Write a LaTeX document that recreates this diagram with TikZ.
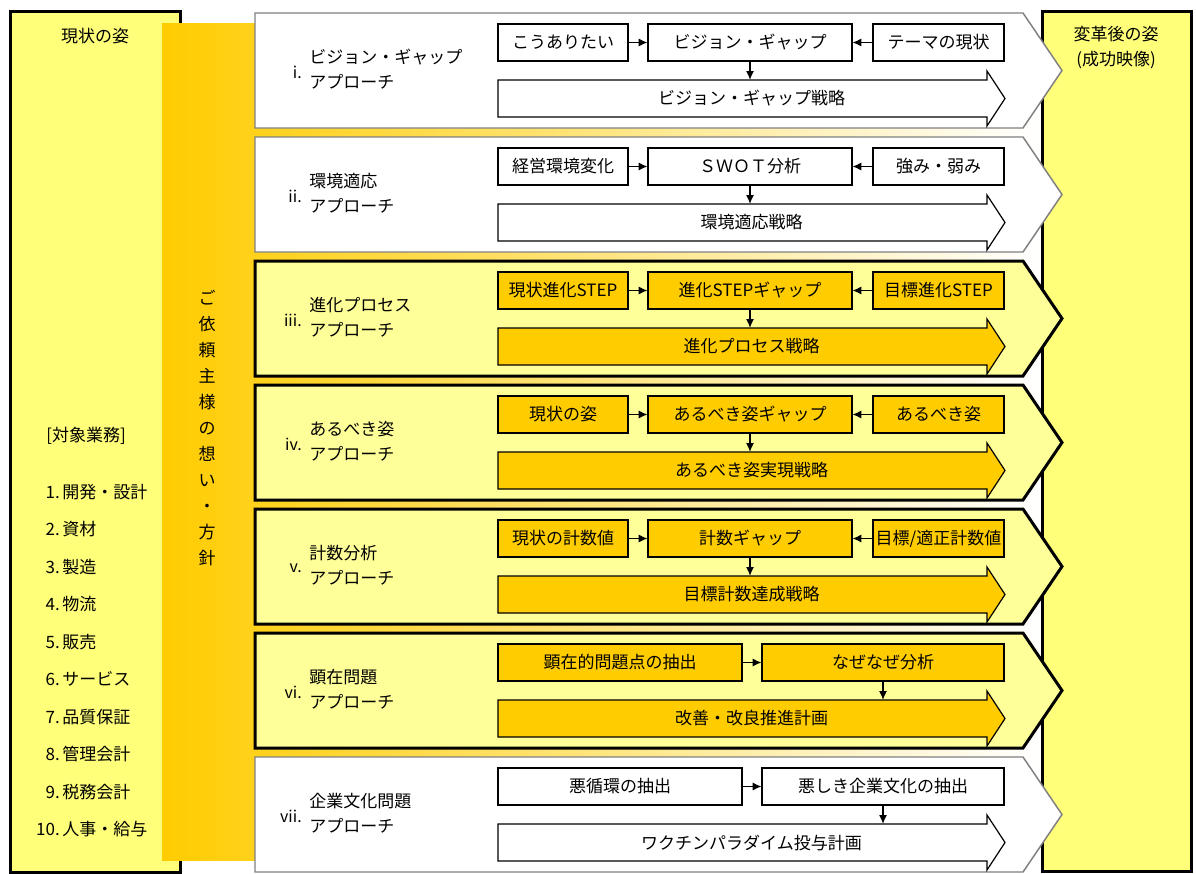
\documentclass[tikz,border=0pt]{standalone}
\usepackage{fontspec}
\setmainfont{Noto Sans CJK JP}
\usetikzlibrary{arrows.meta}
\definecolor{sidey}{HTML}{FFFF7A}
\definecolor{rowy}{HTML}{FFFF99}
\definecolor{boxo}{HTML}{FFCC00}
\definecolor{rowgray}{HTML}{808080}
\tikzset{
  sidebox/.style={draw=black, line width=2.25pt, fill=sidey},
  rowW/.style={draw=rowgray, line width=1.1pt, fill=white},
  rowY/.style={draw=black, line width=2.25pt, fill=rowy},
  fillW/.style={fill=white},
  fillY/.style={fill=boxo},
  ibox/.style={draw=black, line width=0.9pt, minimum height=27.75pt, inner sep=0pt, font=\fontsize{12.75}{14}\selectfont},
  strat/.style={minimum width=380.25pt, minimum height=27.75pt, inner sep=0pt, font=\fontsize{12.75}{14}\selectfont},
  conn/.style={-{Latex[length=6.5pt,width=6pt]}, line width=0.8pt},
  lbl/.style={font=\fontsize{12.75}{18.75}\selectfont, align=left, anchor=west, inner sep=0pt},
  numer/.style={font=\fontsize{12}{12}\selectfont, anchor=east, inner sep=0pt},
  sidetext/.style={font=\fontsize{12.75}{18.75}\selectfont, align=center, inner sep=0pt},
}
\newcommand\ApRow[5]{%
  \draw[row#3] (255,#2) -- (1023,#2) -- (1062,#2+57.5) -- (1023,#2+115) -- (255,#2+115) -- cycle;
  \node[numer] (#1n) at (302,#2+59) {#4};
  \node[lbl] (#1l) at (309,#2+56.5) {#5};
  \draw[fill#3, draw=black, line width=0.9pt] (498,#2+67) -- (987,#2+67) -- (987,#2+58) -- (1005,#2+85.5) -- (987,#2+113) -- (987,#2+104) -- (498,#2+104) -- cycle;
}
\newcommand\ThreeBox[7]{%
  \node[ibox, fill#3, minimum width=97.5pt] (#1a) at (563,#2+29.5) {#4};
  \node[ibox, fill#3, minimum width=153pt] (#1b) at (750,#2+29.5) {#5};
  \node[ibox, fill#3, minimum width=98.25pt] (#1c) at (938.5,#2+29.5) {#6};
  \node[strat] (#1s) at (751.5,#2+85.5) {#7};
  \draw[conn] (#1a) -- (#1b);
  \draw[conn] (#1c) -- (#1b);
  \draw[conn] (#1b) -- (#1b.south |- #1s.north);
}
\newcommand\TwoBox[6]{%
  \node[ibox, fill#3, minimum width=183pt] (#1a) at (620,#2+29.5) {#4};
  \node[ibox, fill#3, minimum width=181.5pt] (#1b) at (883,#2+29.5) {#5};
  \node[strat] (#1s) at (751.5,#2+85.5) {#6};
  \draw[conn] (#1a) -- (#1b);
  \draw[conn] (#1b) -- (#1b.south |- #1s.north);
}
\begin{document}
\begin{tikzpicture}[x=0.75pt, y=-0.75pt]
\useasboundingbox (0,0) rectangle (1196,874);
% side boxes
\draw[sidebox] (1042,12) rectangle (1191,871);
\draw[sidebox] (10,12) rectangle (180,872);
% orange band
\shade[left color=boxo, right color=white] (162,24) rectangle (1039,860);
% left texts
\node[sidetext] (lt) at (95,36) {現状の姿};
\node[sidetext] (lcat) at (86,436) {[対象業務]};
\foreach \n/\t [count=\i] in {1./開発・設計, 2./資材, 3./製造, 4./物流, 5./販売, 6./サービス, 7./品質保証, 8./管理会計, 9./税務会計, 10./人事・給与}{
  \node[anchor=base east, inner sep=0pt, font=\fontsize{12.75}{14}\selectfont] (ln\i) at (60,{492+37.5*(\i-1)+6}) {\n};
  \node[anchor=base west, inner sep=0pt, font=\fontsize{12.75}{14}\selectfont] (lt\i) at (62,{492+37.5*(\i-1)+6}) {\t};
}
% vertical text
\node[font=\fontsize{12.75}{19.5}\selectfont, align=center, inner sep=0pt] (vt) at (207,428) {ご\\依\\頼\\主\\様\\の\\想\\い\\・\\方\\針};
% right text
\node[sidetext] (rt) at (1116,47.5) {変革後の姿\\(成功映像)};
% rows
\ApRow{r1}{13}{W}{i.}{ビジョン・ギャップ\\アプローチ}
\ThreeBox{r1}{13}{W}{こうありたい}{ビジョン・ギャップ}{テーマの現状}{ビジョン・ギャップ戦略}
\ApRow{r2}{137}{W}{ii.}{環境適応\\アプローチ}
\ThreeBox{r2}{137}{W}{経営環境変化}{ＳＷＯＴ分析}{強み・弱み}{環境適応戦略}
\ApRow{r3}{261}{Y}{iii.}{進化プロセス\\アプローチ}
\ThreeBox{r3}{261}{Y}{現状進化STEP}{進化STEPギャップ}{目標進化STEP}{進化プロセス戦略}
\ApRow{r4}{385}{Y}{iv.}{あるべき姿\\アプローチ}
\ThreeBox{r4}{385}{Y}{現状の姿}{あるべき姿ギャップ}{あるべき姿}{あるべき姿実現戦略}
\ApRow{r5}{509}{Y}{v.}{計数分析\\アプローチ}
\ThreeBox{r5}{509}{Y}{現状の計数値}{計数ギャップ}{目標/適正計数値}{目標計数達成戦略}
\ApRow{r6}{633}{Y}{vi.}{顕在問題\\アプローチ}
\TwoBox{r6}{633}{Y}{顕在的問題点の抽出}{なぜなぜ分析}{改善・改良推進計画}
\ApRow{r7}{757}{W}{vii.}{企業文化問題\\アプローチ}
\TwoBox{r7}{757}{W}{悪循環の抽出}{悪しき企業文化の抽出}{ワクチンパラダイム投与計画}
\end{tikzpicture}
\end{document}
